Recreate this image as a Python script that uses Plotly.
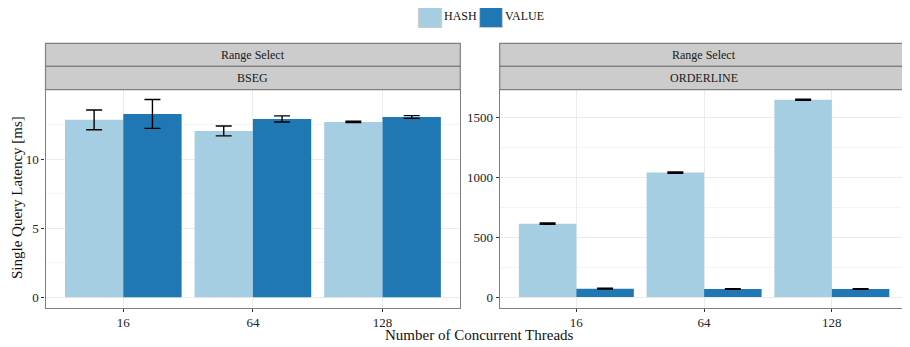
import plotly.graph_objects as go

threads = ["16", "64", "128"]
series = ["HASH", "VALUE"]
colors = {"HASH": "#A6CEE3", "VALUE": "#1F78B4"}

bseg_hash = [12.85, 12.05, 12.70]
bseg_hash_err = [0.72, 0.36, 0.05]
bseg_value = [13.28, 12.92, 13.06]
bseg_value_err = [1.05, 0.22, 0.10]

ol_hash = [612, 1038, 1645]
ol_hash_err = [5, 6, 5]
ol_value = [70, 67, 67]
ol_value_err = [3, 2, 2]

panels = [
    ("BSEG", {"HASH": (bseg_hash, bseg_hash_err), "VALUE": (bseg_value, bseg_value_err)}),
    ("ORDERLINE", {"HASH": (ol_hash, ol_hash_err), "VALUE": (ol_value, ol_value_err)}),
]

# page body has an 8px margin, so the figure is drawn offset by 8px
OFF = 8
W, H = 910 - OFF, 347 - OFF
FONT = "Liberation Serif"

fig = go.Figure()

for i, (name, data) in enumerate(panels):
    xa = "x" if i == 0 else "x2"
    ya = "y" if i == 0 else "y2"
    for s in series:
        vals, errs = data[s]
        fig.add_trace(go.Bar(
            x=threads, y=vals, name=s, marker_color=colors[s],
            marker_line_width=0,
            error_y=dict(type="data", array=errs, visible=True, color="black",
                         thickness=1.4, width=8),
            xaxis=xa, yaxis=ya, showlegend=False, offsetgroup=s,
        ))

def px_x(p):
    return (p - OFF) / W

def px_y(p):
    return 1 - (p - OFF) / H

left_dom = [px_x(45.5), px_x(460.3)]
right_dom = [px_x(499.7), px_x(908.5)]
ydom = [px_y(307.5), px_y(90.2)]

common_x = dict(type="category", range=[-0.6, 2.6], showline=True, mirror=True,
                linecolor="#7F7F7F", linewidth=1.2, showgrid=True, gridcolor="#EBEBEB",
                gridwidth=1, ticks="outside", ticklen=3, tickcolor="#333333",
                tickfont=dict(family=FONT, size=13, color="#222222"))
common_y = dict(showline=True, mirror=True, linecolor="#7F7F7F", linewidth=1.2,
                showgrid=True, gridcolor="#EBEBEB", gridwidth=1, zeroline=False,
                ticks="outside", ticklen=3, tickcolor="#333333",
                tickfont=dict(family=FONT, size=13, color="#222222"))

fig.update_layout(
    width=W, height=H,
    margin=dict(l=0, r=0, t=0, b=0),
    plot_bgcolor="white", paper_bgcolor="white",
    barmode="group", bargap=0.1, bargroupgap=0,
    font=dict(family=FONT, size=13, color="#222222"),
    showlegend=False,
    xaxis=dict(common_x, domain=left_dom, anchor="y"),
    xaxis2=dict(common_x, domain=right_dom, anchor="y2"),
    yaxis=dict(common_y, domain=ydom, anchor="x", range=[-0.75, 15.0],
               tickvals=[0, 5, 10],
               minor=dict(showgrid=True, gridcolor="#F4F4F4", tickvals=[2.5, 7.5, 12.5], ticks="")),
    yaxis2=dict(common_y, domain=ydom, anchor="x2", range=[-87, 1725],
                tickvals=[0, 500, 1000, 1500],
                minor=dict(showgrid=True, gridcolor="#F4F4F4", tickvals=[250, 750, 1250], ticks="")),
)

shapes = []
annotations = []

# legend (top centre): coloured key boxes + labels
legend_box_x = [418.5, 479.5]
for s, bx in zip(series, legend_box_x):
    shapes.append(dict(type="rect", xref="paper", yref="paper",
                       x0=px_x(bx), x1=px_x(bx + 23), y0=px_y(27.5), y1=px_y(4.5),
                       fillcolor=colors[s], line=dict(color="#CCCCCC", width=1.2)))
    annotations.append(dict(text=s, xref="paper", yref="paper",
                            x=px_x(bx + 23.5), y=px_y(16), xanchor="left", yanchor="middle",
                            showarrow=False, font=dict(family=FONT, size=12, color="#111111")))

# facet strips
strip_rows = [(43.3, 66.3), (66.3, 89.7)]
for i, (name, _) in enumerate(panels):
    dom = left_dom if i == 0 else right_dom
    labels = ["Range Select", name]
    for (t, b), lab in zip(strip_rows, labels):
        shapes.append(dict(type="rect", xref="paper", yref="paper",
                           x0=dom[0], x1=dom[1], y0=px_y(b), y1=px_y(t),
                           fillcolor="#CCCCCC", line=dict(color="#7F7F7F", width=1.2),
                           layer="above"))
        annotations.append(dict(text=lab, xref="paper", yref="paper",
                                x=(dom[0] + dom[1]) / 2, y=px_y((t + b) / 2),
                                xanchor="center", yanchor="middle", showarrow=False,
                                font=dict(family=FONT, size=12, color="#1A1A1A")))

annotations.append(dict(text="Number of Concurrent Threads", xref="paper", yref="paper",
                        x=px_x(479), y=px_y(335), xanchor="center", yanchor="middle",
                        showarrow=False, font=dict(family=FONT, size=15, color="#111111")))
annotations.append(dict(text="Single Query Latency [ms]", xref="paper", yref="paper",
                        x=px_x(17), y=px_y(198), xanchor="center", yanchor="middle",
                        textangle=-90, showarrow=False,
                        font=dict(family=FONT, size=15, color="#111111")))

fig.update_layout(shapes=shapes, annotations=annotations)

fig.write_html("out.html")
